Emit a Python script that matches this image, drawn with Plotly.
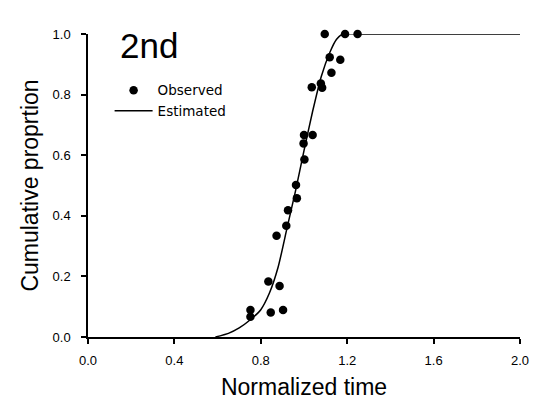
import plotly.graph_objects as go

obs_x = [0.752, 0.752, 0.846, 0.903, 0.835, 0.887, 0.873, 0.918, 0.926, 0.967, 0.963,
         1.002, 0.998, 1.000, 1.040, 1.036, 1.084, 1.078, 1.127, 1.119, 1.168,
         1.096, 1.190, 1.248]
obs_y = [0.067, 0.089, 0.081, 0.089, 0.183, 0.168, 0.334, 0.367, 0.418, 0.458, 0.502,
         0.586, 0.639, 0.667, 0.667, 0.824, 0.823, 0.837, 0.872, 0.923, 0.915,
         1.0, 1.0, 1.0]

# Estimated curve
est_x = [0.59, 0.65, 0.70, 0.75, 0.80, 0.84, 0.88, 0.92, 0.96, 1.00, 1.04, 1.08, 1.12, 1.15, 1.18, 1.25, 2.0]
est_y = [0.0, 0.012, 0.03, 0.056, 0.09, 0.145, 0.23, 0.355, 0.48, 0.615, 0.745, 0.86, 0.94, 0.982, 1.0, 1.0, 1.0]

x_ticks = [0.0, 0.4, 0.8, 1.2, 1.6, 2.0]
y_ticks = [0.0, 0.2, 0.4, 0.6, 0.8, 1.0]

FONT = "Liberation Sans, Arial, sans-serif"
LFONT = "DejaVu Sans, Verdana, sans-serif"

fig = go.Figure()
fig.add_trace(go.Scatter(
    x=obs_x, y=obs_y, mode="markers", name="Observed",
    marker=dict(color="black", size=8.5, symbol="circle"),
    cliponaxis=False,
))
fig.add_trace(go.Scatter(
    x=est_x, y=est_y, mode="lines", name="Estimated",
    line=dict(color="black", width=1.5, shape="spline", smoothing=0.6),
    cliponaxis=False,
))

axis_common = dict(
    showline=True, linecolor="black", linewidth=1.5,
    ticks="outside", ticklen=5, tickwidth=1.5, tickcolor="black",
    showgrid=False, zeroline=False,
    tickfont=dict(family=FONT, size=13, color="black"),
)

fig.update_xaxes(
    range=[0, 2.0], tickvals=x_ticks, ticktext=[f"{v:.1f}" for v in x_ticks],
    title=dict(text="Normalized time", font=dict(family=FONT, size=23, color="black"), standoff=12),
    ticklabelstandoff=6,
    **axis_common,
)
fig.update_yaxes(
    range=[0, 1.0], tickvals=y_ticks, ticktext=[f"{v:.1f}" for v in y_ticks],
    title=dict(text="Cumulative proprtion", font=dict(family=FONT, size=23, color="black"), standoff=8),
    ticklabelstandoff=8,
    **axis_common,
)

fig.add_annotation(
    text="2nd", xref="paper", yref="paper", x=0.07, y=0.962,
    xanchor="left", yanchor="middle", showarrow=False,
    font=dict(family=FONT, size=35, color="black"),
)

fig.update_layout(
    width=541, height=409,
    margin=dict(l=88, r=15, t=34, b=72),
    paper_bgcolor="white", plot_bgcolor="white",
    showlegend=True,
    legend=dict(
        x=0.05, y=0.865, xanchor="left", yanchor="top",
        bgcolor="rgba(0,0,0,0)", borderwidth=0,
        font=dict(family=LFONT, size=13.5, color="black"),
        tracegroupgap=0, itemwidth=38,
    ),
    font=dict(family=FONT, color="black"),
)

fig.write_html("out.html")
